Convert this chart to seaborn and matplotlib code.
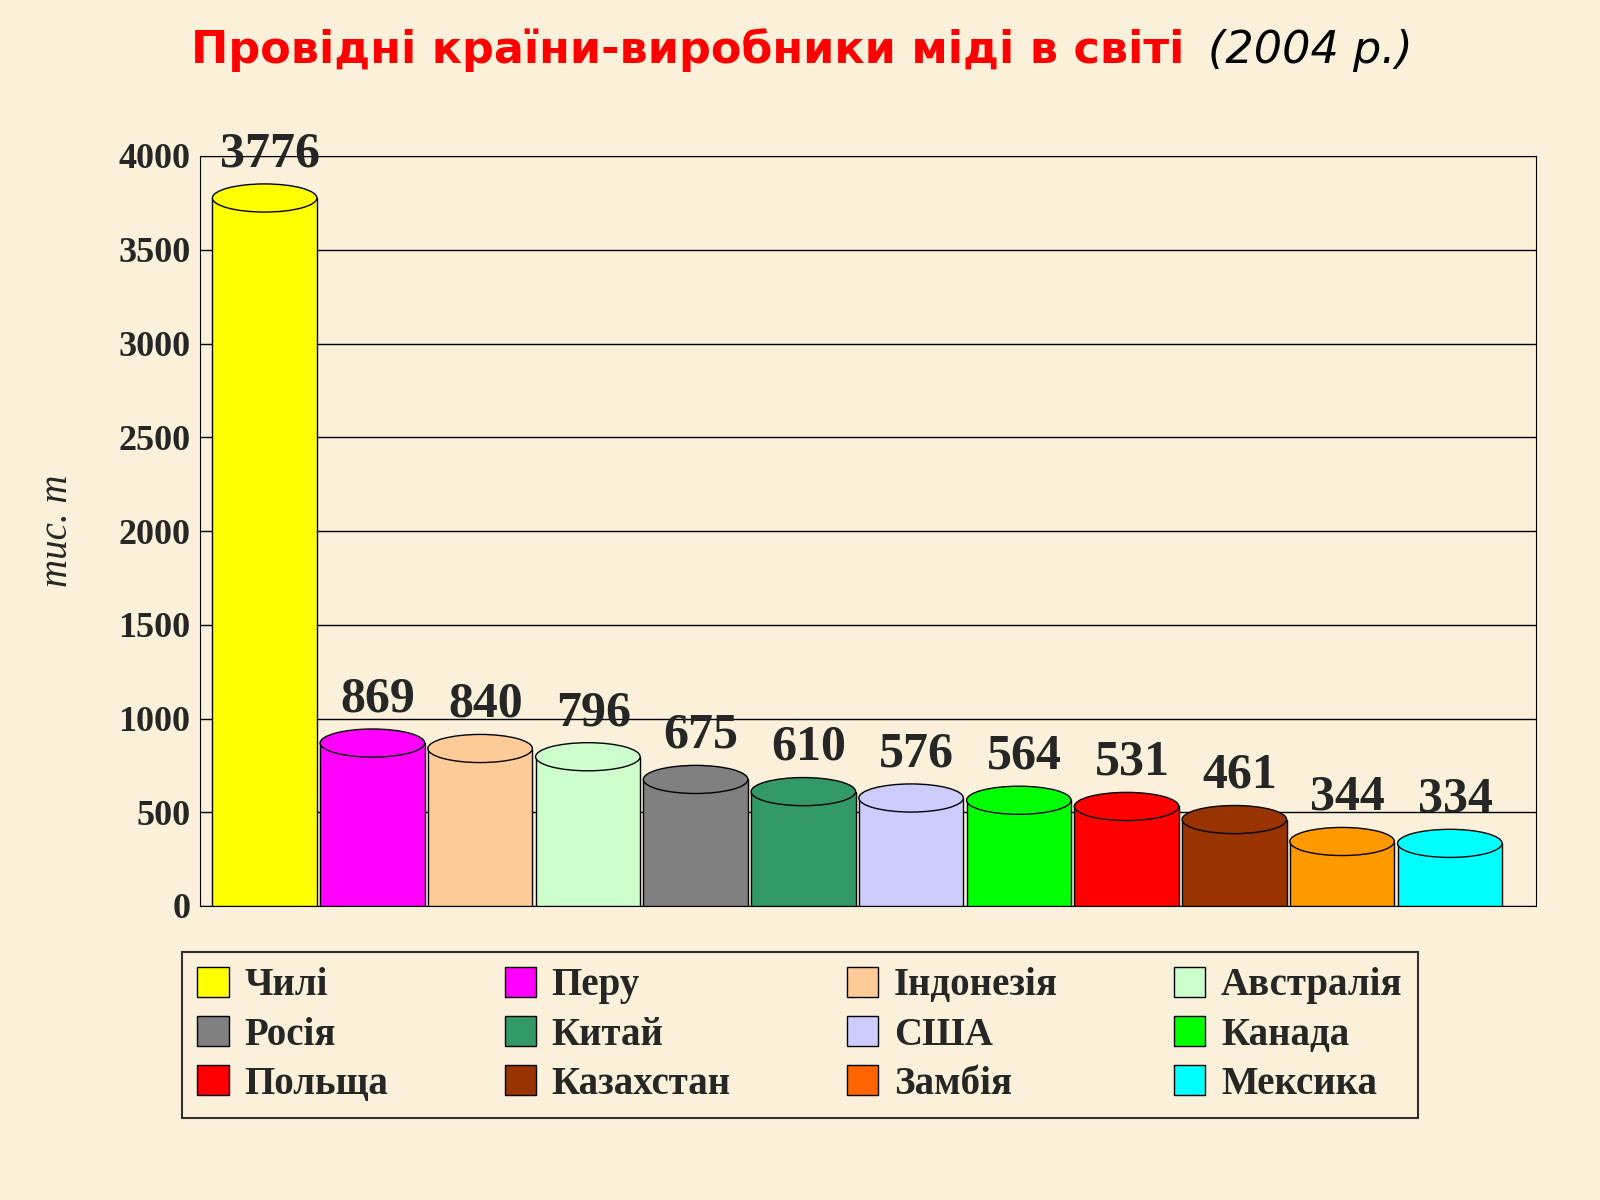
# Copper producers chart
import matplotlib
matplotlib.use("Agg")
import matplotlib.pyplot as plt
import matplotlib.patches as mpatches
import pandas as pd
import seaborn as sns

countries = ['Чилі', 'Перу', 'Індонезія', 'Австралія', 'Росія', 'Китай',
             'США', 'Канада', 'Польща', 'Казахстан', 'Замбія', 'Мексика']
values = [3776, 869, 840, 796, 675, 610, 576, 564, 531, 461, 344, 334]
colors = ['#FFFF00', '#FF00FF', '#FFCC99', '#CCFFCC', '#808080', '#339966',
          '#CCCCFF', '#00FF00', '#FF0000', '#993300', '#FF9900', '#00FFFF']
legend_colors = colors[:10] + ['#FF6600', '#00FFFF']
yticks = list(range(0, 4001, 500))

data = pd.DataFrame({'country': countries, 'value': values})

sns.set_style("white")
bg = '#FBF1DA'
fig = plt.figure(figsize=(16, 12), dpi=100, facecolor=bg)
ax = fig.add_axes([0.125, 0.245, 0.835, 0.625], facecolor=bg)

sns.barplot(data=data, x='country', y='value', hue='country', palette=colors,
            saturation=1, legend=False, width=0.97, edgecolor='black', linewidth=1,
            ax=ax, zorder=3)

# elliptic tops to imitate cylinders
for p, v in zip(ax.patches, values):
    x = p.get_x() + p.get_width() / 2
    top = mpatches.Ellipse((x, v), p.get_width(), 150, facecolor=p.get_facecolor(),
                           edgecolor='black', linewidth=1, zorder=4)
    ax.add_patch(top)
    ax.text(x + 0.05, v + 110, str(v), ha='center', va='bottom', fontsize=36,
            fontweight='bold', family='Liberation Serif', zorder=5)

ax.set_ylim(0, 4000)
ax.set_xlim(-0.6, 11.8)
ax.set_yticks(yticks)
ax.set_yticklabels([str(t) for t in yticks], fontsize=26, fontweight='bold',
                   family='Liberation Serif')
ax.set_xticks([])
ax.set_xlabel('')
ax.set_ylabel('тис. т', fontsize=28, style='italic', family='Liberation Serif', labelpad=30)
ax.grid(axis='y', color='black', linewidth=1, zorder=0)
for s in ax.spines.values():
    s.set_color('black')

fig.text(0.74, 0.958, 'Провідні країни-виробники міді в світі', color='#FF0000',
         fontsize=32, fontweight='bold', family='DejaVu Sans', ha='right', va='center')
fig.text(0.755, 0.958, '(2004 р.)', color='black', fontsize=32, style='italic',
         family='DejaVu Sans', ha='left', va='center')

handles = [mpatches.Patch(facecolor=c, edgecolor='black', label=n)
           for n, c in zip(countries, legend_colors)]
order = [0, 4, 8, 1, 5, 9, 2, 6, 10, 3, 7, 11]
leg = fig.legend(handles=[handles[i] for i in order], loc='lower center',
                 bbox_to_anchor=(0.5, 0.052), ncol=4, frameon=True, fancybox=False,
                 edgecolor='black', facecolor=bg,
                 prop={'family': 'Liberation Serif', 'weight': 'bold', 'size': 28},
                 handlelength=0.8, handleheight=0.8, handletextpad=0.4,
                 columnspacing=3.0, labelspacing=0.3)
leg.get_frame().set_linewidth(1.5)

fig.savefig('out.png', dpi=100, facecolor=bg)
